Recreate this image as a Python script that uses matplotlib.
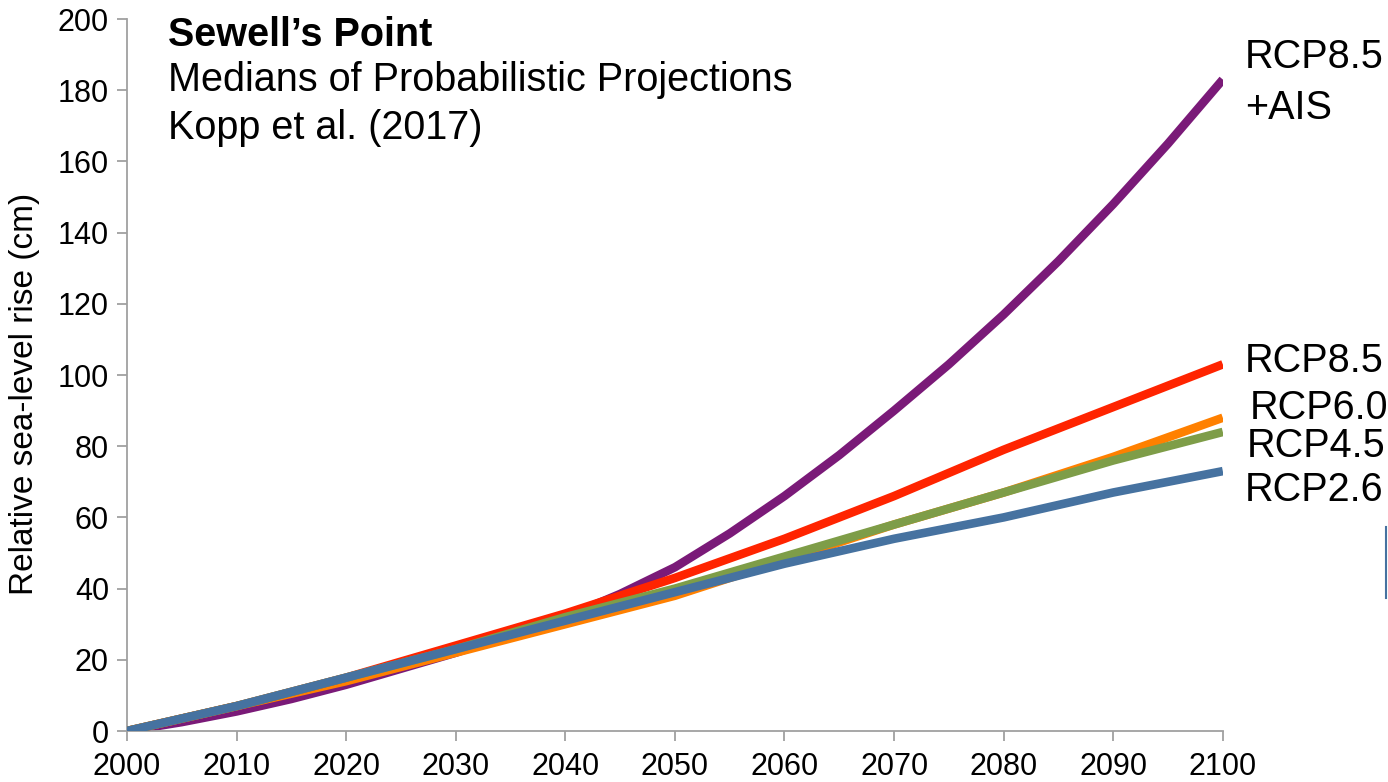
import matplotlib
matplotlib.use("Agg")
import matplotlib.pyplot as plt
from matplotlib.lines import Line2D

plt.rcParams['font.family'] = ['Liberation Sans', 'DejaVu Sans']

# decade / half-decade medians (cm)
years_fine = [2000, 2005, 2010, 2015, 2020, 2025, 2030, 2035, 2040, 2045,
              2050, 2055, 2060, 2065, 2070, 2075, 2080, 2085, 2090, 2095, 2100]
rcp85_ais = [0, 2.5, 5.5, 9, 13, 17.5, 22, 27, 32, 38.5,
             46, 55.5, 66, 77.5, 90, 103, 117, 132, 148, 165, 183]

years = [2000, 2010, 2020, 2030, 2040, 2050, 2060, 2070, 2080, 2090, 2100]
rcp85 = [0, 7, 15, 24, 33, 43, 54, 66, 79, 91, 103]
rcp60 = [0, 7, 14, 22, 30, 38, 48, 58, 67, 77, 88]
rcp45 = [0, 7, 15, 23, 32, 40, 49, 58, 67, 76, 84]
rcp26 = [0, 7, 15, 23, 31, 39, 47, 54, 60, 67, 73]

labels = ["RCP8.5", "+AIS", "RCP8.5", "RCP6.0", "RCP4.5", "RCP2.6"]
label_y = [189.2, 175, 104, 90.7, 80, 67.6]
label_x = [2102, 2102, 2102, 2102.5, 2102.2, 2102]

fig = plt.figure(figsize=(13.88, 7.82), dpi=100)
ax = fig.add_axes([0.0915, 0.0652, 0.7895, 0.9105])

lw = 6.2
ax.plot(years_fine, rcp85_ais, color='#7A1A78', lw=lw, zorder=1, solid_capstyle='butt')
ax.plot(years, rcp60, color='#FF8000', lw=lw, zorder=2, solid_capstyle='butt')
ax.plot(years, rcp85, color='#FF2400', lw=lw, zorder=3, solid_capstyle='butt')
ax.plot(years, rcp45, color='#7E9D48', lw=lw, zorder=4, solid_capstyle='butt')
ax.plot(years, rcp26, color='#4672A0', lw=lw, zorder=5, solid_capstyle='butt')

ax.set_xlim(2000, 2100)
ax.set_ylim(0, 200)
ax.set_xticks(range(2000, 2101, 10))
ax.set_yticks(range(0, 201, 20))
ax.tick_params(labelsize=22, color='#A0A0A0', width=1.3, length=7, direction='out')
ax.tick_params(axis='x', pad=8)
ax.tick_params(axis='y', pad=6)
for s in ['top', 'right']:
    ax.spines[s].set_visible(False)
for s in ['left', 'bottom']:
    ax.spines[s].set_color('#A0A0A0')
    ax.spines[s].set_linewidth(1.3)
ax.set_ylabel("Relative sea-level rise (cm)", fontsize=24)
ax.yaxis.set_label_coords(-0.079, 0.473)

# titles inside plot
ax.text(0.037, 0.977, "Sewell\u2019s Point", transform=ax.transAxes, fontsize=28.5,
        fontweight='bold', va='center', ha='left')
ax.text(0.037, 0.914, "Medians of Probabilistic Projections", transform=ax.transAxes,
        fontsize=28.5, va='center', ha='left')
ax.text(0.037, 0.847, "Kopp et al. (2017)", transform=ax.transAxes,
        fontsize=28.5, va='center', ha='left')

# scenario labels at right
for lab, xv, yv in zip(labels, label_x, label_y):
    ax.text(xv, yv, lab, fontsize=28.5, va='center', ha='left', clip_on=False)

# cropped edge artefact on the right border
fig.add_artist(Line2D([0.9985, 0.9985], [0.235, 0.326], color='#4672A0', lw=1.5))

fig.savefig("out.png", dpi=100)
